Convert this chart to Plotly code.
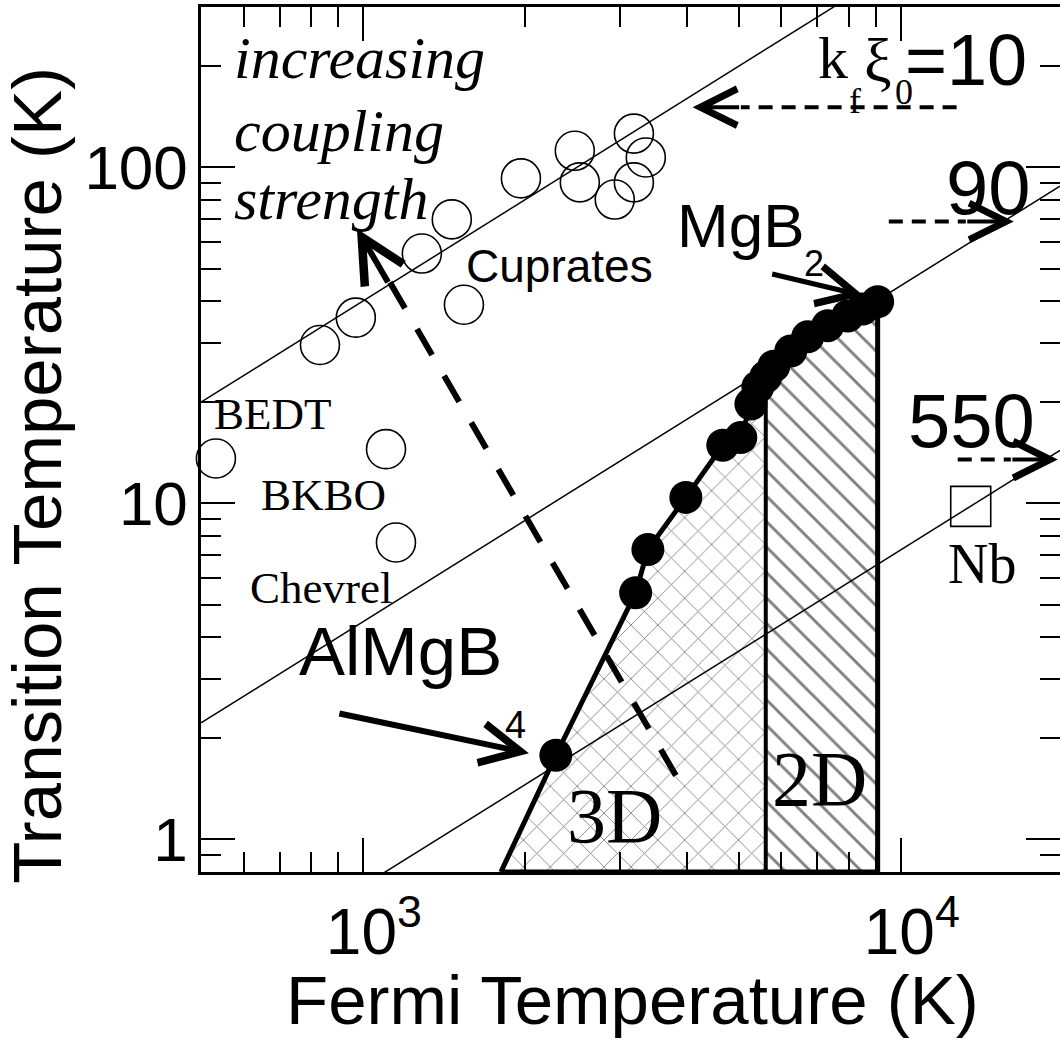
import numpy as np
import plotly.graph_objects as go

# ---------------- data ----------------
TF_MIN, TF_MAX = 500, 19770          # Fermi temperature axis limits (K)
TC_MIN, TC_MAX = 0.8, 300            # transition temperature axis limits (K)

# open circles: cuprates, BEDT, BKBO, Chevrel
OPEN_TF = [533, 1104, 1152, 832, 970, 1287, 1463, 1541, 1967, 2477, 2531, 3190, 3357, 3190, 2939]
OPEN_TC = [13.6, 14.5, 7.65, 29.6, 35.7, 55.4, 70.0, 39.0, 92.7, 112, 90.2, 126, 107, 90.2, 80.2]

# Nb (open square)
NB_TF = [13490]
NB_TC = [9.8]

# filled circles: AlMgB4 ... MgB2
FILLED_TF = [2284, 3214, 3387, 3985, 4667, 5042, 5264, 5423, 5610, 5807, 6244, 6714, 7314, 7970, 8496, 9057]
FILLED_TC = [1.78, 5.42, 7.29, 10.42, 14.9, 15.7, 19.75, 22.2, 23.8, 25.6, 28.4, 31.3, 33.8, 36.1, 37.9, 39.8]

BASE_TF = 1805        # where the 3D boundary meets the bottom axis
DIVIDER_TF = 5610     # 3D / 2D divider

# k_f xi_0 lines: Tc = TF / ratio
KF_RATIO = [25, 225, 1375]

# dashed "increasing coupling strength" line (TF, Tc)
COUPLING_TF = [3818, 1080]
COUPLING_TC = [1.55, 50.6]
COUPLING_TIP = (974.6, 65.7)

# dashed pointer arrows for k_f xi_0 labels: (start TF, end TF, Tc)
KF_POINTERS = [(12700, 5042, 151), (9500, 13210, 69), (12760, 16020, 13.5)]
KF_TIPS = [(4102, 151, 48, 0), (16220, 69, -48, 0), (19590, 13.5, -47, 0)]

SERIF = "Liberation Serif, Times New Roman, serif"
SANS = "Liberation Sans, Arial, sans-serif"

# labels: text, TF, Tc, font, size
LABELS = [
    ("Cuprates", 2323, 51.0, SANS, 46),
    ("BEDT", 680, 18.4, SERIF, 45),
    ("BKBO", 846, 10.6, SERIF, 45),
    ("Chevrel", 836, 5.6, SERIF, 45),
    ("AlMgB", 1177, 3.62, SANS, 69),
    ("4", 1923, 2.19, SANS, 38),
    ("MgB", 5042, 67.0, SANS, 62),
    ("2", 6887, 51.7, SANS, 36),
    ("k", 7476, 212, SERIF, 60),
    ("f", 8212, 158, SERIF, 36),
    ("\u03be", 9060, 208, SERIF, 62),
    ("0", 10130, 167, SERIF, 36),
    ("=10", 13200, 208, SANS, 72),
    ("90", 14580, 87.0, SANS, 76),
    ("550", 13550, 17.6, SANS, 76),
    ("Nb", 14150, 6.6, SERIF, 56),
    ("3D", 2939, 1.18, SERIF, 78),
    ("2D", 7063, 1.52, SERIF, 78),
]

# italic note, one entry per line: text, Tc of line top
NOTE_LINES = [("increasing", 268), ("coupling", 163), ("strength", 102)]
NOTE_TF = 571

fig = go.Figure()

# 3D hatched region
sel3 = [(t, c) for t, c in zip(FILLED_TF, FILLED_TC) if t <= DIVIDER_TF]
x3 = [BASE_TF] + [t for t, _ in sel3] + [DIVIDER_TF]
y3 = [TC_MIN] + [c for _, c in sel3] + [TC_MIN]
fig.add_trace(go.Scatter(
    x=x3, y=y3, fill="toself", mode="none", fillcolor="white",
    fillpattern=dict(shape="x", fgcolor="black", bgcolor="white", size=19, solidity=0.09),
    hoverinfo="skip"))

# 2D hatched region
sel2 = [(t, c) for t, c in zip(FILLED_TF, FILLED_TC) if t >= DIVIDER_TF]
x2 = [t for t, _ in sel2] + [FILLED_TF[-1], DIVIDER_TF]
y2 = [c for _, c in sel2] + [TC_MIN, TC_MIN]
fig.add_trace(go.Scatter(
    x=x2, y=y2, fill="toself", mode="none", fillcolor="white",
    fillpattern=dict(shape="\\", fgcolor="black", bgcolor="white", size=18, solidity=0.16),
    hoverinfo="skip"))

# k_f xi_0 lines
for r in KF_RATIO:
    fig.add_trace(go.Scatter(
        x=[TF_MIN, TF_MAX], y=[TF_MIN / r, TF_MAX / r], mode="lines",
        line=dict(color="black", width=1.5), hoverinfo="skip"))

# thick boundary of 3D/2D region
fig.add_trace(go.Scatter(
    x=[BASE_TF] + FILLED_TF + [FILLED_TF[-1], BASE_TF],
    y=[TC_MIN] + FILLED_TC + [TC_MIN, TC_MIN],
    mode="lines", line=dict(color="black", width=5), cliponaxis=False, hoverinfo="skip"))
div_tc = FILLED_TC[FILLED_TF.index(DIVIDER_TF)]
fig.add_trace(go.Scatter(
    x=[DIVIDER_TF, DIVIDER_TF], y=[TC_MIN, div_tc], mode="lines",
    line=dict(color="black", width=4), cliponaxis=False, hoverinfo="skip"))

# dashed coupling line
fig.add_trace(go.Scatter(
    x=COUPLING_TF, y=COUPLING_TC, mode="lines",
    line=dict(color="black", width=6, dash="30px,24px"), hoverinfo="skip"))

# dashed pointer lines
for x0, x1, yv in KF_POINTERS:
    fig.add_trace(go.Scatter(
        x=[x0, x1], y=[yv, yv], mode="lines",
        line=dict(color="black", width=4, dash="14px,9px"), cliponaxis=False, hoverinfo="skip"))

# open circles
fig.add_trace(go.Scatter(
    x=OPEN_TF, y=OPEN_TC, mode="markers", cliponaxis=False,
    marker=dict(symbol="circle-open", size=39, color="black", line=dict(width=1.6)),
    hoverinfo="skip"))
# Nb square
fig.add_trace(go.Scatter(
    x=NB_TF, y=NB_TC, mode="markers", cliponaxis=False,
    marker=dict(symbol="square-open", size=40, color="black", line=dict(width=1.6)),
    hoverinfo="skip"))
# filled circles
fig.add_trace(go.Scatter(
    x=FILLED_TF, y=FILLED_TC, mode="markers", cliponaxis=False,
    marker=dict(symbol="circle", size=33, color="black"),
    hoverinfo="skip"))

L = np.log10
ann = []
for text, tf, tc, fam, sz in LABELS:
    ann.append(dict(x=L(tf), y=L(tc), xref="x", yref="y", text=text, showarrow=False,
                    font=dict(family=fam, size=sz, color="black"),
                    xanchor="center", yanchor="middle"))

for text, tc in NOTE_LINES:
    ann.append(dict(x=L(NOTE_TF), y=L(tc), xref="x", yref="y",
                    text="<i>%s</i>" % text, showarrow=False,
                    xanchor="left", yanchor="top",
                    font=dict(family=SERIF, size=60, color="black")))


def arrow(tf, tc, ax, ay, width, size):
    return dict(x=L(tf), y=L(tc), xref="x", yref="y", text="", showarrow=True,
                ax=ax, ay=ay, arrowhead=5, arrowwidth=width, arrowsize=size,
                arrowcolor="black", standoff=0)


ann.append(arrow(COUPLING_TIP[0], COUPLING_TIP[1], 32, 55, 6, 1.45))
for tf, tc, ax, ay in KF_TIPS:
    ann.append(arrow(tf, tc, ax, ay, 4, 1.8))
ann.append(arrow(8530, 41.5, -93, -22, 5, 1.5))     # MgB2
ann.append(arrow(2035, 1.805, -191, -40, 6, 1.3))   # AlMgB4

# axis titles
ann.append(dict(x=0.5025, y=-0.148, xref="paper", yref="paper",
                text="Fermi Temperature (K)", showarrow=False,
                font=dict(family=SANS, size=69, color="black"),
                xanchor="center", yanchor="middle"))
ann.append(dict(x=-0.190, y=0.459, xref="paper", yref="paper",
                text="Transition Temperature (K)", showarrow=False, textangle=-90,
                font=dict(family=SANS, size=69, color="black"),
                xanchor="center", yanchor="middle"))

axis_common = dict(showline=True, linecolor="black", linewidth=2.5, mirror="allticks",
                   ticks="inside", ticklen=34, tickwidth=2, tickcolor="black",
                   showgrid=False, zeroline=False)

fig.update_layout(
    width=1060, height=1040,
    margin=dict(l=201, r=0, t=7, b=168, autoexpand=False),
    plot_bgcolor="white", paper_bgcolor="white", showlegend=False,
    xaxis=dict(type="log", range=[L(TF_MIN), L(TF_MAX)],
               tickvals=[1000, 10000], ticktext=["10<sup>3</sup>", "10<sup>4</sup>"],
               ticklabelstandoff=2, ticklabelshift=11,
               tickfont=dict(family=SANS, size=64, color="black"),
               minor=dict(ticks="inside", ticklen=20, tickwidth=2, tickcolor="black",
                          tickvals=[600, 700, 800, 900, 2000, 3000, 4000, 5000, 6000,
                                    7000, 8000, 9000]),
               **axis_common),
    yaxis=dict(type="log", range=[L(TC_MIN), L(TC_MAX)],
               tickvals=[1, 10, 100], ticktext=["1", "10", "100"],
               ticklabelstandoff=-2,
               tickfont=dict(family=SANS, size=62, color="black"),
               minor=dict(ticks="inside", ticklen=20, tickwidth=2, tickcolor="black",
                          tickvals=[0.9, 2, 3, 4, 5, 6, 7, 8, 9, 20, 30, 40, 50, 60,
                                    70, 80, 90, 200, 300]),
               **axis_common),
    annotations=ann,
)

fig.write_html("out.html")
